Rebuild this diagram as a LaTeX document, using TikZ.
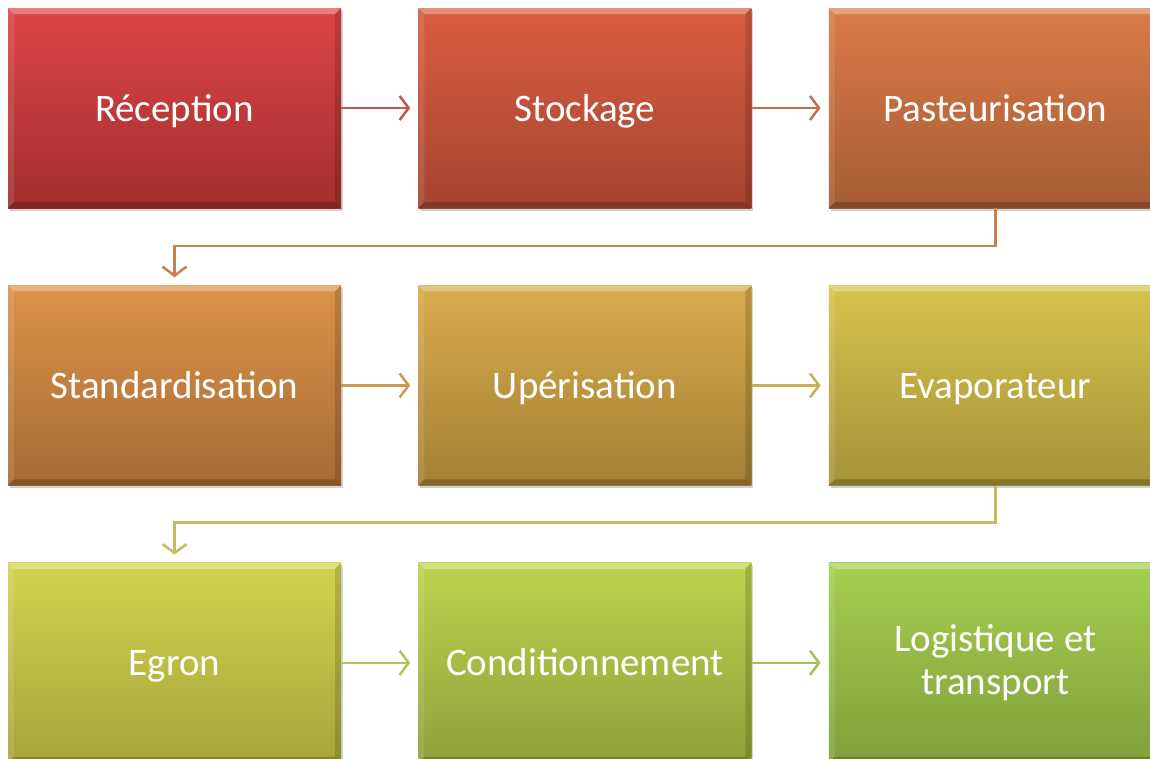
\documentclass[tikz,border=0pt]{standalone}
\usepackage{fontspec}
\setmainfont{Carlito}
\usetikzlibrary{arrows.meta,positioning,shadows}

\definecolor{rouge1}{HTML}{DD4545}
\definecolor{rouge2}{HTML}{A32E2E}
\definecolor{brique1}{HTML}{D95D43}
\definecolor{brique2}{HTML}{A6442F}
\definecolor{orange1}{HTML}{DB7B48}
\definecolor{orange2}{HTML}{A55C33}
\definecolor{ocre1}{HTML}{DC9249}
\definecolor{ocre2}{HTML}{A76B34}
\definecolor{or1}{HTML}{D9AB4B}
\definecolor{or2}{HTML}{A48036}
\definecolor{moutarde1}{HTML}{D6C34E}
\definecolor{moutarde2}{HTML}{A49337}
\definecolor{olive1}{HTML}{D3D350}
\definecolor{olive2}{HTML}{A7A43A}
\definecolor{anis1}{HTML}{BDD34F}
\definecolor{anis2}{HTML}{8FA13A}
\definecolor{vert1}{HTML}{A6CF4F}
\definecolor{vert2}{HTML}{7FA03B}
% couleurs des fleches
\definecolor{f1}{RGB}{196,85,78}
\definecolor{f2}{RGB}{200,107,78}
\definecolor{f3}{RGB}{199,127,82}
\definecolor{f4}{RGB}{201,154,86}
\definecolor{f5}{RGB}{199,176,88}
\definecolor{f6}{RGB}{194,189,94}
\definecolor{f7}{RGB}{182,195,91}
\definecolor{f8}{RGB}{163,192,90}

\begin{document}
\begin{tikzpicture}[x=1pt, y=-1pt, node distance = 77pt,
  etape/.style 2 args={rectangle, minimum width=333pt, minimum height=200pt,
    top color=#1, bottom color=#2,
    text=white, align=center, font=\fontsize{39}{43}\selectfont,
    execute at begin node={\rule[-7pt]{0pt}{40pt}},
    drop shadow={shadow xshift=2pt, shadow yshift=-3pt, opacity=.35},
    path picture={
      \fill[white,opacity=.3] (path picture bounding box.north west)
        -- (path picture bounding box.north east) -- ++(-6pt,-6pt)
        -- ([shift={(6pt,-6pt)}]path picture bounding box.north west) -- cycle;
      \fill[white,opacity=.1] (path picture bounding box.north west)
        -- ([shift={(6pt,-6pt)}]path picture bounding box.north west)
        -- ([shift={(6pt,6pt)}]path picture bounding box.south west)
        -- (path picture bounding box.south west) -- cycle;
      \fill[black,opacity=.15] (path picture bounding box.north east)
        -- ([shift={(-6pt,-6pt)}]path picture bounding box.north east)
        -- ([shift={(-6pt,6pt)}]path picture bounding box.south east)
        -- (path picture bounding box.south east) -- cycle;
      \fill[black,opacity=.2] (path picture bounding box.south west)
        -- ([shift={(6pt,6pt)}]path picture bounding box.south west)
        -- ([shift={(-6pt,6pt)}]path picture bounding box.south east)
        -- (path picture bounding box.south east) -- cycle;}},
  fleche/.style={draw=#1, line width=2.5pt,
    -{Straight Barb[length=9pt,width=24pt]}, shorten >=8pt}]
\path[clip, use as bounding box] (0,0) rectangle (1150,758);
\fill[white] (0,0) rectangle (1150,758);

\node[etape={rouge1}{rouge2}] (1) at (174.5,108) {Réception};
\node[etape={brique1}{brique2}] (2) [right=of 1] {Stockage};
\node[etape={orange1}{orange2}] (3) [right=of 2] {Pasteurisation};
\node[etape={ocre1}{ocre2}] (4) [below=of 1] {Standardisation};
\node[etape={or1}{or2}] (5) [right=of 4] {Upérisation};
\node[etape={moutarde1}{moutarde2}] (6) [right=of 5] {Evaporateur};
\node[etape={olive1}{olive2}] (7) [below=of 4] {Egron};
\node[etape={anis1}{anis2}] (8) [right=of 7] {Conditionnement};
\node[etape={vert1}{vert2}] (9) [right=of 8] {Logistique et\\transport};

\draw[fleche=f1] (1) -- (2);
\draw[fleche=f2] (2) -- (3);
\draw[fleche=f3] (3.south) -- ++(0,38) -| (4.north);
\draw[fleche=f4] (4) -- (5);
\draw[fleche=f5] (5) -- (6);
\draw[fleche=f6] (6.south) -- ++(0,37) -| (7.north);
\draw[fleche=f7] (7) -- (8);
\draw[fleche=f8] (8) -- (9);
\end{tikzpicture}
\end{document}
